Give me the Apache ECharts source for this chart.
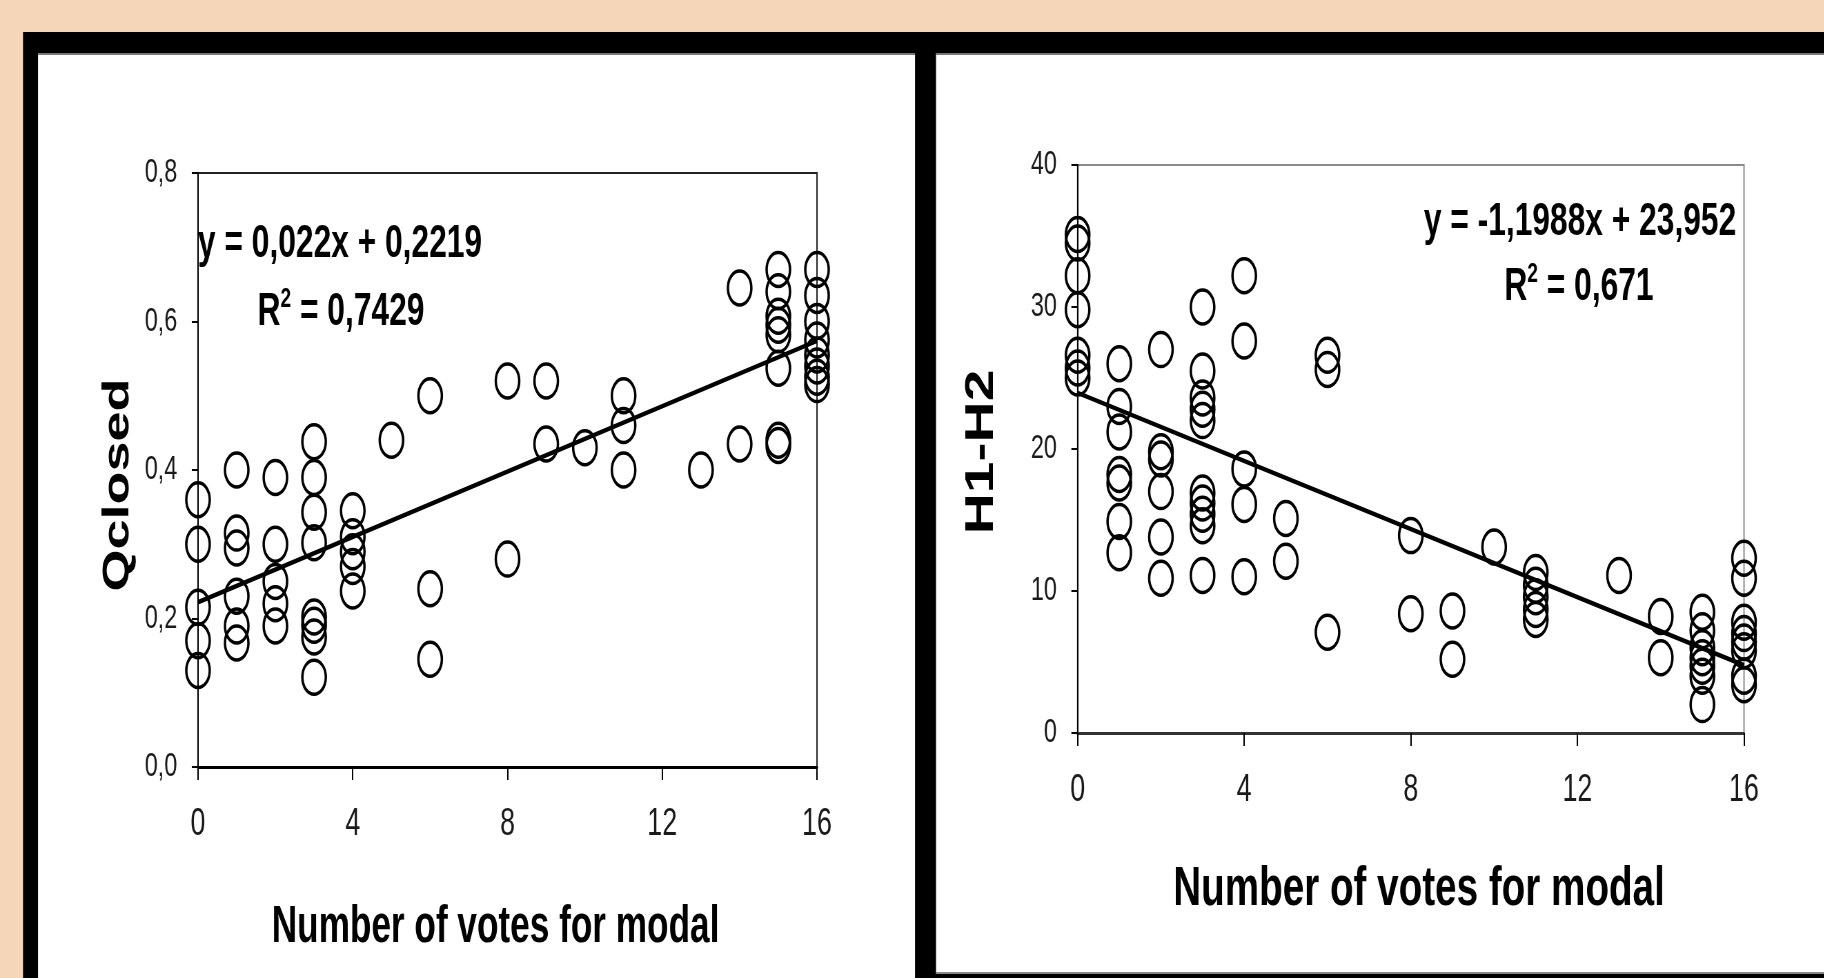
<!DOCTYPE html>
<html>
<head>
<meta charset="utf-8">
<script src="https://cdn.jsdelivr.net/npm/echarts@6/dist/echarts.min.js"></script>
<style>
  html, body { margin: 0; padding: 0; width: 1824px; height: 978px; overflow: hidden; background: #f6d6b8; }
  #wrap { position: absolute; left: 0; top: 0; width: 1824px; height: 978px; overflow: hidden; }
  #chart { height: 978px; transform-origin: 0 0; }
</style>
</head>
<body>
<div id="wrap"><div id="chart"></div></div>
<script>
// ---- data: number of votes for the modal category vs. Qclosed ----
const votesLeft = [
  0, 0, 0, 0, 0,
  1, 1, 1, 1, 1, 1,
  2, 2, 2, 2, 2,
  3, 3, 3, 3, 3, 3, 3, 3,
  4, 4, 4, 4, 4,
  5,
  6, 6, 6,
  8, 8,
  9, 9,
  10,
  11, 11, 11,
  13,
  14, 14,
  15, 15, 15, 15, 15, 15, 15, 15,
  16, 16, 16, 16, 16, 16, 16, 16
];
const qClosed = [
  0.36, 0.30, 0.215, 0.17, 0.13,
  0.40, 0.315, 0.295, 0.23, 0.19, 0.167,
  0.39, 0.30, 0.25, 0.22, 0.19,
  0.438, 0.39, 0.343, 0.302, 0.202, 0.191, 0.175, 0.121,
  0.345, 0.31, 0.29, 0.27, 0.237,
  0.44,
  0.50, 0.24, 0.145,
  0.52, 0.28,
  0.52, 0.435,
  0.43,
  0.50, 0.46, 0.40,
  0.40,
  0.645, 0.435,
  0.67, 0.64, 0.607, 0.595, 0.582, 0.537, 0.44, 0.433,
  0.67, 0.635, 0.60, 0.575, 0.555, 0.54, 0.525, 0.515
];

// ---- data: number of votes for the modal category vs. H1-H2 ----
const votesRight = [
  0, 0, 0, 0, 0, 0, 0,
  1, 1, 1, 1, 1, 1, 1,
  2, 2, 2, 2, 2, 2,
  3, 3, 3, 3, 3, 3, 3, 3, 3, 3,
  4, 4, 4, 4, 4,
  5, 5,
  6, 6, 6,
  8, 8,
  9, 9,
  10,
  11, 11, 11, 11, 11,
  13,
  14, 14,
  15, 15, 15, 15, 15, 15, 15,
  16, 16, 16, 16, 16, 16, 16, 16
];
const h1h2 = [
  35.1, 34.5, 32.2, 29.8, 26.6, 25.7, 25.0,
  26.0, 23.0, 21.2, 18.2, 17.6, 14.9, 12.7,
  27.0, 19.8, 19.3, 17.0, 13.8, 10.9,
  30.0, 25.5, 23.6, 22.8, 22.0, 16.9, 16.2, 15.4, 14.6, 11.1,
  32.2, 27.6, 18.6, 16.1, 11.0,
  15.1, 12.1,
  26.6, 25.6, 7.1,
  13.9, 8.4,
  8.6, 5.2,
  13.1,
  11.3, 10.4, 9.6, 8.7, 8.0,
  11.1,
  8.2, 5.3,
  8.5, 7.2, 6.0, 5.3, 4.7, 4.0, 2.0,
  12.3, 10.9, 7.8, 7.0, 6.4, 5.8, 4.0, 3.4
];

// linear trendlines as printed on each panel
const leftSlope = 0.022, leftIntercept = 0.2219;
const rightSlope = -1.1988, rightIntercept = 23.952;
const leftEquation = 'y = 0,022x + 0,2219';
const leftR2 = ' = 0,7429';
const rightEquation = 'y = -1,1988x + 23,952';
const rightR2 = ' = 0,671';

const xTicks = [0, 4, 8, 12, 16];
const leftYTicks = [0, 0.2, 0.4, 0.6, 0.8];
const rightYTicks = [0, 10, 20, 30, 40];

// ---- layout: the canvas is drawn wide and squeezed horizontally ----
const W = 1824, H = 978, SX = 0.69;
const X = v => v / SX;                // page x -> canvas x
const chartEl = document.getElementById('chart');
chartEl.style.width = (W / SX) + 'px';
chartEl.style.transform = 'scaleX(' + SX + ')';

const tickFont = "'Liberation Sans Narrow', 'Liberation Sans', Arial, sans-serif";
const boldFont = "'Liberation Sans', Arial, sans-serif";

const pairs = (xs, ys) => xs.map((x, i) => [x, ys[i]]);
const fitLine = (a, b) => [[xTicks[0], a * xTicks[0] + b], [xTicks[xTicks.length - 1], a * xTicks[xTicks.length - 1] + b]];

function xAxisFor(grid) {
  return {
    type: 'value', gridIndex: grid, min: xTicks[0], max: xTicks[xTicks.length - 1], interval: 4,
    splitLine: { show: false },
    axisLine: { onZero: false, lineStyle: { color: grid === 0 ? '#000' : '#333', width: 3 } },
    axisTick: { length: 13, lineStyle: { color: '#000', width: 2 } },
    axisLabel: { margin: 38, fontFamily: tickFont, fontSize: 39, color: '#1a1a1a' }
  };
}
function yAxisFor(grid, ticks, fmt) {
  return {
    type: 'value', gridIndex: grid, min: ticks[0], max: ticks[ticks.length - 1],
    interval: ticks[1] - ticks[0],
    splitLine: { show: false },
    axisLine: { onZero: false, lineStyle: { color: '#000', width: 2 } },
    axisTick: { length: 9, lineStyle: { color: '#000', width: 2 } },
    axisLabel: { margin: 30, fontFamily: tickFont, fontSize: 34, color: '#1a1a1a', formatter: fmt }
  };
}

function txt(x, y, text, size, rot) {
  return {
    type: 'text', x: X(x), y: y, rotation: rot || 0, z: 50,
    style: {
      text: text, fill: '#000', fontFamily: boldFont, fontWeight: 'bold', fontSize: size,
      align: 'center', verticalAlign: 'middle', textAlign: 'center', textVerticalAlign: 'middle'
    }
  };
}
// "R" with a raised "2" followed by the value
function r2(x, y, value, size) {
  return {
    type: 'text', x: X(x), y: y, z: 50,
    style: {
      text: '{r|R}{s|2}{r|' + value + '}',
      align: 'center', verticalAlign: 'middle', textAlign: 'center', textVerticalAlign: 'middle',
      rich: {
        r: { fontFamily: boldFont, fontWeight: 'bold', fontSize: size, fill: '#000', color: '#000', lineHeight: size * 1.15 },
        s: { fontFamily: boldFont, fontWeight: 'bold', fontSize: size * 0.6, fill: '#000', color: '#000',
             verticalAlign: 'top', lineHeight: size * 0.85 }
      }
    }
  };
}

const marker = {
  type: 'scatter', symbol: 'circle', symbolSize: 34, clip: false,
  itemStyle: { color: 'rgba(0,0,0,0)', borderColor: '#000', borderWidth: 3.5, opacity: 1 },
  emphasis: { disabled: true }, z: 3
};
const trend = {
  type: 'line', showSymbol: false, symbol: 'none', clip: false,
  lineStyle: { color: '#000', width: 4.5 }, emphasis: { disabled: true }, z: 4
};

const option = {
  backgroundColor: '#f6d6b8',
  animation: false,
  grid: [
    { left: X(198), top: 173, width: X(817) - X(198), height: 594, show: true,
      borderColor: '#222', borderWidth: 2, backgroundColor: 'rgba(0,0,0,0)' },
    { left: X(1077.6), top: 165, width: X(1744) - X(1077.6), height: 568, show: true,
      borderColor: '#8a8a8a', borderWidth: 2, backgroundColor: 'rgba(0,0,0,0)' }
  ],
  xAxis: [xAxisFor(0), xAxisFor(1)],
  yAxis: [
    yAxisFor(0, leftYTicks, v => v.toFixed(1).replace('.', ',')),
    yAxisFor(1, rightYTicks, v => String(v))
  ],
  series: [
    Object.assign({}, marker, { name: 'Qclosed', xAxisIndex: 0, yAxisIndex: 0, data: pairs(votesLeft, qClosed) }),
    Object.assign({}, trend, { name: 'Qclosed trend', xAxisIndex: 0, yAxisIndex: 0, data: fitLine(leftSlope, leftIntercept) }),
    Object.assign({}, marker, { name: 'H1-H2', xAxisIndex: 1, yAxisIndex: 1, data: pairs(votesRight, h1h2) }),
    Object.assign({}, trend, { name: 'H1-H2 trend', xAxisIndex: 1, yAxisIndex: 1, data: fitLine(rightSlope, rightIntercept) })
  ],
  graphic: [
    // black frame with two white panels
    { type: 'rect', z: -20, shape: { x: X(23), y: 32, width: X(W) - X(23), height: H - 32 }, style: { fill: '#000' } },
    { type: 'rect', z: -19, shape: { x: X(38), y: 53, width: X(915) - X(38), height: 925 }, style: { fill: '#fff' } },
    { type: 'rect', z: -19, shape: { x: X(936), y: 53, width: X(W) - X(936), height: 921 }, style: { fill: '#fff' } },
    { type: 'rect', z: -18, shape: { x: X(38), y: 53, width: X(915) - X(38), height: 2 }, style: { fill: '#777' } },
    { type: 'rect', z: -18, shape: { x: X(936), y: 53, width: X(W) - X(936), height: 2 }, style: { fill: '#777' } },
    { type: 'rect', z: -18, shape: { x: X(936), y: 972, width: X(W) - X(936), height: 2 }, style: { fill: '#888' } },
    // trendline equations
    txt(340, 244, leftEquation, 46),
    r2(341, 312, leftR2, 46),
    txt(1580, 222, rightEquation, 46),
    r2(1579, 287, rightR2, 46),
    // axis titles
    txt(118, 485, 'Qclosed', 54, Math.PI / 2),
    txt(982, 452, 'H1-H2', 57, Math.PI / 2),
    txt(495.5, 928, 'Number of votes for modal', 51),
    txt(1419, 890, 'Number of votes for modal', 56)
  ]
};

const chart = echarts.init(chartEl, null, { renderer: 'canvas' });
chart.setOption(option);
</script>
</body>
</html>
